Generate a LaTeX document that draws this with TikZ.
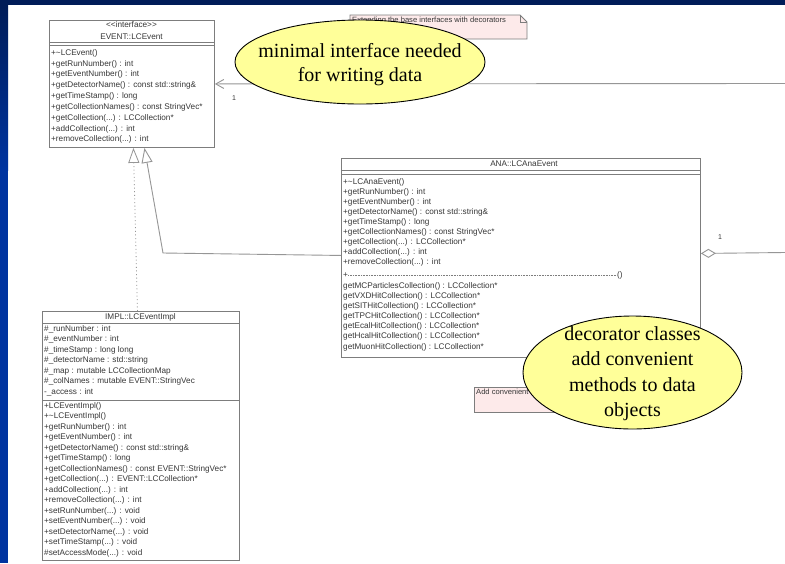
\documentclass[tikz,border=0pt]{standalone}
\usepackage{fontspec}
\setmainfont{Liberation Serif}
\setsansfont{Liberation Sans}
\usetikzlibrary{arrows.meta,shapes.geometric,calc}
\definecolor{navy}{RGB}{0,28,88}
\definecolor{bandblue}{RGB}{0,52,160}
\definecolor{umlgray}{RGB}{125,125,125}
\definecolor{linegray}{RGB}{150,150,150}
\definecolor{notepink}{RGB}{253,234,234}
\definecolor{bubbleyellow}{RGB}{255,255,153}
\definecolor{umltext}{RGB}{55,55,55}
\newcommand{\umldots}{...}
\begin{document}
\begin{tikzpicture}[x=1pt,y=-1pt,
 umlbox/.style={draw=umlgray, line width=0.9pt, fill=white, inner sep=0, anchor=north west},
 umltxt/.style={font=\sffamily\fontsize{8.2}{10}\selectfont, text=umltext, inner sep=0, anchor=west, text height=6pt, text depth=1.7pt},
 umlhead/.style={umltxt, anchor=center},
 sepline/.style={draw=umlgray, line width=0.9pt},
 notebox/.style={draw=umlgray, fill=notepink, line width=0.8pt},
 notetxt/.style={font=\sffamily\fontsize{7.6}{9}\selectfont, text=umltext, inner sep=0},
 bubble/.style={ellipse, draw=black, line width=0.9pt, fill=bubbleyellow, inner sep=0},
 bubbletxt/.style={font=\fontsize{20}{23.5}\selectfont, align=center, inner sep=0},
 conn/.style={draw=linegray, line width=0.9pt},
 mult/.style={font=\sffamily\fontsize{7}{8}\selectfont, text=umltext, inner sep=0}
]
\useasboundingbox (0,0) rectangle (785,563);
\fill[white] (0,0) rectangle (785,563);
\fill[navy] (0,0) rectangle (785,5);
\shade[top color=navy, bottom color=bandblue] (0,5) rectangle (8,170);
\fill[bandblue] (0,170) rectangle (8,563);

% ---------- EVENT::LCEvent ----------
\node[umlbox, minimum width=165pt, minimum height=127pt] (ev) at (49,20) {};
\node[umlhead] (evst) at (131.5,25.5) {\textless\kern0pt\textless\kern0pt interface\textgreater\kern0pt\textgreater};
\node[umlhead] (evname) at (131.5,37) {EVENT::LCEvent};
\draw[sepline] (49,42.3) -- (214,42.3);
\draw[sepline] (49,45.7) -- (214,45.7);
\foreach \t [count=\i from 0] in {
 {+\textasciitilde LCEvent()},
 {+getRunNumber() : int},
 {+getEventNumber() : int},
 {+getDetectorName() : const std::string\&},
 {+getTimeStamp() : long},
 {+getCollectionNames() : const StringVec*},
 {+getCollection(\umldots) : LCCollection*},
 {+addCollection(\umldots) : int},
 {+removeCollection(\umldots) : int}}
 \node[umltxt] (ev-r\i) at (51,{53+10.85*\i}) {\t};

% ---------- ANA::LCAnaEvent ----------
\node[umlbox, minimum width=359pt, minimum height=199pt] (ana) at (341,158) {};
\node[umlhead] (ananame) at (524,164.5) {ANA::LCAnaEvent};
\draw[sepline] (341,170.5) -- (700,170.5);
\draw[sepline] (341,174) -- (700,174);
\foreach \t [count=\i from 0] in {
 {+\textasciitilde LCAnaEvent()},
 {+getRunNumber() : int},
 {+getEventNumber() : int},
 {+getDetectorName() : const std::string\&},
 {+getTimeStamp() : long},
 {+getCollectionNames() : const StringVec*},
 {+getCollection(\umldots) : LCCollection*},
 {+addCollection(\umldots) : int},
 {+removeCollection(\umldots) : int}}
 \node[umltxt] (ana-r\i) at (343,{182+10.1*\i}) {\t};
\node[umltxt] (ana-plus) at (343,275) {+};
\node[umltxt] (ana-paren) at (617,275) {()};
\draw[draw=umlgray, line width=0.6pt, dash pattern=on 0.7pt off 0.9pt] (ana-plus.east) -- (ana-paren.west);
\foreach \t [count=\i from 0] in {
 {getMCParticlesCollection() : LCCollection*},
 {getVXDHitCollection() : LCCollection*},
 {getSITHitCollection() : LCCollection*},
 {getTPCHitCollection() : LCCollection*},
 {getEcalHitCollection() : LCCollection*},
 {getHcalHitCollection() : LCCollection*},
 {getMuonHitCollection() : LCCollection*}}
 \node[umltxt] (ana-g\i) at (343,{286+10.15*\i}) {\t};

% ---------- IMPL::LCEventImpl ----------
\node[umlbox, minimum width=197pt, minimum height=249pt] (impl) at (42,311) {};
\node[umlhead] (implname) at (140.5,317) {IMPL::LCEventImpl};
\draw[sepline] (42,323) -- (239,323);
\draw[sepline] (42,400) -- (239,400);
\foreach \t [count=\i from 0] in {
 {\#\_runNumber : int},
 {\#\_eventNumber : int},
 {\#\_timeStamp : long long},
 {\#\_detectorName : std::string},
 {\#\_map : mutable LCCollectionMap},
 {\#\_colNames : mutable EVENT::StringVec},
 {-\_access : int}}
 \node[umltxt] (impl-a\i) at (44,{329+10.5*\i}) {\t};
\foreach \t [count=\i from 0] in {
 {+LCEventImpl()},
 {+\textasciitilde LCEventImpl()},
 {+getRunNumber() : int},
 {+getEventNumber() : int},
 {+getDetectorName() : const std::string\&},
 {+getTimeStamp() : long},
 {+getCollectionNames() : const EVENT::StringVec*},
 {+getCollection(\umldots) : EVENT::LCCollection*},
 {+addCollection(\umldots) : int},
 {+removeCollection(\umldots) : int},
 {+setRunNumber(\umldots) : void},
 {+setEventNumber(\umldots) : void},
 {+setDetectorName(\umldots) : void},
 {+setTimeStamp(\umldots) : void},
 {\#setAccessMode(\umldots) : void}}
 \node[umltxt] (impl-m\i) at (44,{406+10.5*\i}) {\t};

% ---------- connectors ----------
\coordinate (evR) at (785,83.5);
\draw[conn, -{Straight Barb[length=8pt,width=9pt]}] (evR) -- (ev.east);
\node[mult] (m1) at (234,98) {1};

\coordinate (tipA) at ($(ev.south)+(1.5,0)$);
\coordinate (tipB) at ($(ev.south)+(12.5,0)$);
\draw[conn, line width=0.8pt, dash pattern=on 1pt off 2.6pt, -{Triangle[open,length=15pt,width=11pt]}] ($(impl.north)+(-3.5,0)$) -- (tipA);
\coordinate (bend) at (163,253);
\draw[conn, -{Triangle[open,length=15pt,width=11pt]}] ($(ana.west)+(0,-2.5)$) -- (bend) -- (tipB);

\coordinate (aggR) at (785,252.5);
\draw[conn, -{Diamond[open,length=15pt,width=9pt]}] (aggR) -- ($(ana.east)+(0,-4.5)$);
\node[mult] (m2) at (720,237) {1};

% ---------- notes ----------
\draw[notebox] (350,15) -- (520,15) -- (527,22) -- (527,39) -- (350,39) -- cycle;
\draw[umlgray, line width=0.7pt] (520,15) -- (520,22) -- (527,22);
\node[notetxt, anchor=west] (note1) at (352,20.5) {Extending the base interfaces with decorators};
\draw[notebox] (474,387) rectangle (600,412);
\node[notetxt, anchor=north west] (note2) at (476,389) {Add convenient};

% ---------- callouts ----------
\node[bubble, minimum width=250pt, minimum height=84pt] (ell1) at (360,62) {};
\node[bubbletxt] (ell1t) at (360,64.5) {minimal interface needed\\for writing data};
\node[bubble, minimum width=219pt, minimum height=113pt] (ell2) at (632.5,372.5) {};
\node[bubbletxt, font=\fontsize{20}{25.5}\selectfont] (ell2t) at (632.5,373.5) {decorator classes\\add convenient\\methods to data\\objects};
\end{tikzpicture}
\end{document}
